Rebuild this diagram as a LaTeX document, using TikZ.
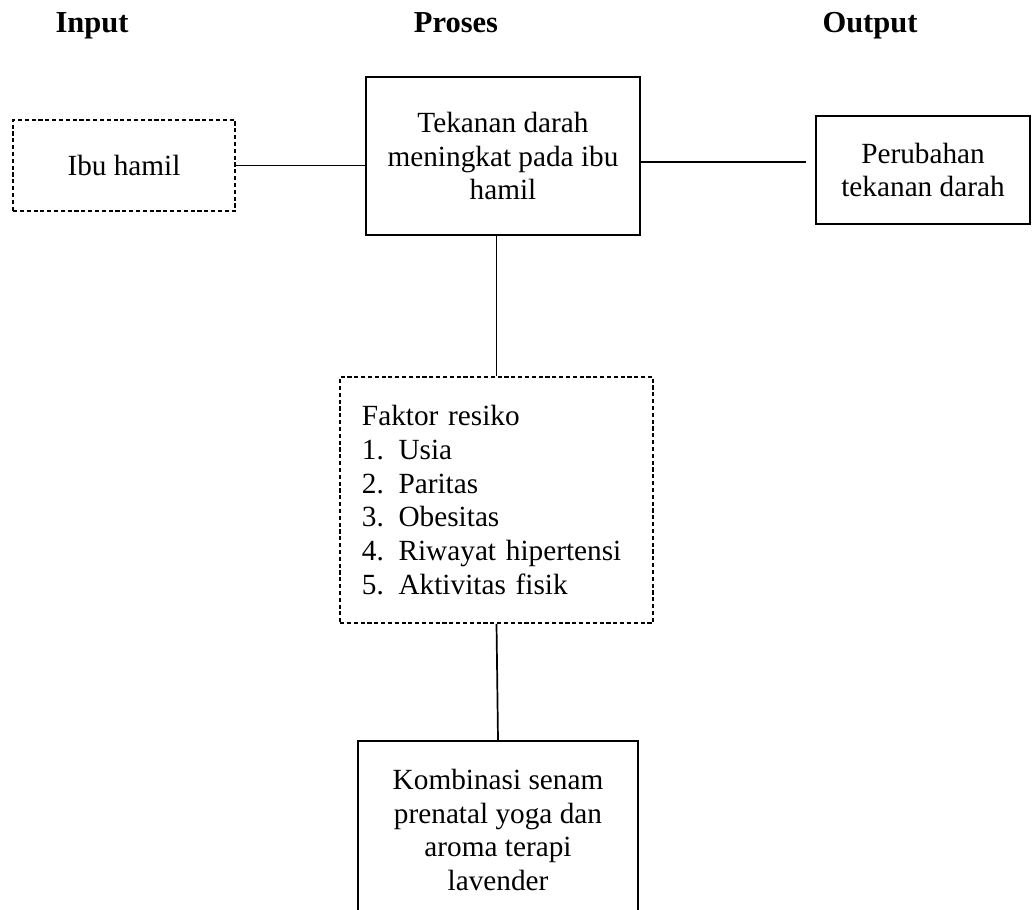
\documentclass[tikz,border=0pt]{standalone}
\usepackage{fontspec}
\setmainfont{Liberation Serif}
\usetikzlibrary{positioning}

\begin{document}
\begin{tikzpicture}[x=0.41pt, y=-0.41pt,
    every node/.style={font=\fontsize{12}{13.8}\selectfont},
    head/.style={font=\fontsize{12.5}{14}\selectfont\bfseries, anchor=base},
    box/.style={draw, line width=0.7pt, align=center, inner sep=0pt},
    dashbox/.style={box, dash pattern=on 1.7pt off 1.1pt}]
    \useasboundingbox (0,0) rectangle (1032,909);

    % Column titles
    \node[head] (tin)  at (92,33)  {Input};
    \node[head] (tpro) at (456,33) {Proses};
    \node[head] (tout) at (870,33) {Output};

    % Top row
    \node[dashbox, minimum width=91pt, minimum height=37.3pt] (ibu) at (124,165.5) {Ibu hamil};
    \node[box, minimum width=112.3pt, minimum height=64.8pt] (tek) at (503,156)
        {Tekanan darah\\ meningkat pada ibu\\ hamil};
    \node[box, minimum width=87.7pt, minimum height=44.3pt] (per) at (923,170)
        {Perubahan\\ tekanan darah};

    % Risk factors
    \node[dashbox, align=left, inner xsep=9pt, text width=110.3pt, minimum height=100.9pt] (fak) at (496.5,500)
        {Faktor resiko\\
         \makebox[15pt][l]{1.}Usia\\
         \makebox[15pt][l]{2.}Paritas\\
         \makebox[15pt][l]{3.}Obesitas\\
         \makebox[15pt][l]{4.}Riwayat hipertensi\\
         \makebox[15pt][l]{5.}Aktivitas fisik};

    % Intervention (runs off the page)
    \node[box, minimum width=114.8pt, minimum height=73pt] (kom) at (498,830)
        {Kombinasi senam\\ prenatal yoga dan\\ aroma terapi\\ lavender};

    % Connectors
    \draw[line width=0.7pt] (ibu.east) -- (ibu.east -| tek.west);
    \draw[line width=0.7pt, shorten >=3.7pt] ([yshift=-2.5pt]tek.east) -- ([yshift=-2.5pt]tek.east -| per.west);
    \draw[line width=0.7pt] (tek.south -| fak.north) -- (fak.north);
    \draw[line width=0.7pt] (fak.south) -- (kom.north);
\end{tikzpicture}
\end{document}
